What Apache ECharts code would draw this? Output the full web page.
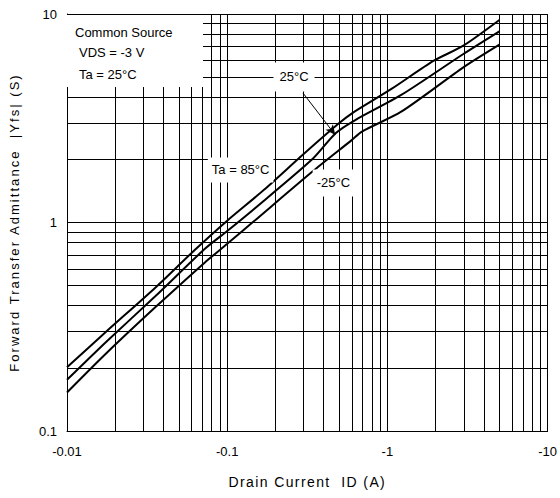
<!DOCTYPE html>
<html>
<head>
<meta charset="utf-8">
<script src="https://cdn.jsdelivr.net/npm/echarts@6/dist/echarts.min.js"></script>
<style>
  html, body { margin: 0; padding: 0; background: #fff; }
  #chart { width: 560px; height: 498px; }
</style>
</head>
<body>
<div id="chart"></div>
<script>
// |Yfs| versus drain current, VDS = -3 V, three ambient temperatures
const id85   = [0.01, 0.0176, 0.0357, 0.0627, 0.1, 0.169, 0.30, 0.498, 0.601, 1.06, 1.95, 2.98, 5.0];
const yfs85  = [0.202, 0.300, 0.488, 0.738, 1.02, 1.43, 2.13, 2.99, 3.34, 4.37, 5.97, 7.05, 9.36];

const id25   = [0.01, 0.0176, 0.0357, 0.0723, 0.1, 0.146, 0.342, 0.475, 0.63, 1.22, 2.98, 5.0];
const yfs25  = [0.176, 0.268, 0.444, 0.746, 0.91, 1.155, 2.02, 2.68, 3.10, 4.09, 6.43, 8.26];

const idM25  = [0.01, 0.0176, 0.0357, 0.0723, 0.1, 0.146, 0.342, 0.601, 0.693, 1.22, 2.98, 5.0];
const yfsM25 = [0.153, 0.236, 0.393, 0.642, 0.79, 1.01, 1.76, 2.49, 2.73, 3.40, 5.55, 7.13];

const xTickLabels = ['-0.01', '-0.1', '-1', '-10'];
const yTickLabels = ['0.1', '1', '10'];

const xDecades = [0.01, 0.1, 1];
const yDecades = [0.1, 1];

// annotation anchors in data units (current magnitude, |Yfs|)
const label25  = [0.2614, 4.99];
const label85  = [0.1213, 1.786];
const labelM25 = [0.4598, 1.547];
const arrowFrom = [0.297, 4.18];
const arrowTo   = [0.473, 2.63];

const xTitle = 'Drain Current  ID (A)';
const yTitle = 'Forward Transfer Admittance  |Yfs| (S)';
const noteLines = ['Common Source', 'VDS = -3 V', 'Ta = 25°C'];

const FONT = '"Liberation Sans", Arial, sans-serif';

function pairs(xs, ys) { return xs.map((x, i) => [x, ys[i]]); }

// log-decade grid: 1..9 within each decade plus the closing edge
const xGrid = [];
xDecades.forEach(d => { for (let k = 1; k <= 9; k++) xGrid.push(+(k * d).toPrecision(3)); });
xGrid.push(10);
const yGrid = [];
yDecades.forEach(d => { for (let k = 1; k <= 9; k++) yGrid.push(+(k * d).toPrecision(3)); });
yGrid.push(10);

const gridLines = [
  ...xGrid.map(v => ({ xAxis: v })),
  ...yGrid.map(v => ({ yAxis: v }))
];

const curveStyle = { color: '#000', width: 2 };
const noteText = (text, x, y) => ({
  type: 'text', x, y, z: 101,
  style: { text, fontFamily: FONT, fontSize: 13, fill: '#000', verticalAlign: 'middle' }
});

const chart = echarts.init(document.getElementById('chart'), null, { renderer: 'svg' });

chart.setOption({
  animation: false,
  backgroundColor: '#fff',
  grid: { left: 60, right: 11, top: 14, bottom: 67 },
  xAxis: {
    type: 'log', logBase: 10, min: 0.01, max: 10,
    name: xTitle, nameLocation: 'middle', nameGap: 44,
    nameTextStyle: { fontFamily: FONT, fontSize: 14, color: '#000' },
    axisLine: { show: true, lineStyle: { color: '#000', width: 1 } },
    axisTick: { show: false },
    splitLine: { show: false },
    minorTick: { show: false }, minorSplitLine: { show: false },
    axisLabel: {
      fontFamily: FONT, fontSize: 13, color: '#000', margin: 14,
      formatter: (v, i) => xTickLabels[i]
    }
  },
  yAxis: {
    type: 'log', logBase: 10, min: 0.1, max: 10,
    name: yTitle, nameLocation: 'middle', nameGap: 46, nameRotate: 90,
    nameTextStyle: { fontFamily: FONT, fontSize: 13, color: '#000' },
    axisLine: { show: true, lineStyle: { color: '#000', width: 1 } },
    axisTick: { show: false },
    splitLine: { show: false },
    axisLabel: {
      fontFamily: FONT, fontSize: 13, color: '#000', margin: 10,
      formatter: (v, i) => yTickLabels[i]
    }
  },
  series: [
    {
      name: 'grid', type: 'line', z: 1, silent: true,
      data: [[0.01, 0.1]], showSymbol: false, lineStyle: { width: 0 },
      markLine: {
        silent: true, symbol: ['none', 'none'], animation: false,
        label: { show: false },
        lineStyle: { color: '#000', width: 1, type: 'solid' },
        emphasis: { disabled: true },
        data: gridLines
      }
    },
    {
      name: 'Ta = 85°C', type: 'line', z: 3, smooth: 0.25,
      showSymbol: false, lineStyle: curveStyle,
      data: pairs(id85, yfs85)
    },
    {
      name: '25°C', type: 'line', z: 3, smooth: 0.25,
      showSymbol: false, lineStyle: curveStyle,
      data: pairs(id25, yfs25),
      markLine: {
        silent: true, symbol: ['none', 'arrow'], symbolSize: [7, 10],
        label: { show: false },
        lineStyle: { color: '#000', width: 1, type: 'solid' },
        data: [[{ coord: arrowFrom }, { coord: arrowTo }]]
      }
    },
    {
      name: '-25°C', type: 'line', z: 3, smooth: 0.25,
      showSymbol: false, lineStyle: curveStyle,
      data: pairs(idM25, yfsM25)
    },
    {
      name: 'labels', type: 'line', z: 5, silent: true,
      data: [], showSymbol: false,
      markPoint: {
        silent: true, symbol: 'rect', symbolSize: 1,
        itemStyle: { color: 'rgba(0,0,0,0)' },
        label: {
          show: true, position: 'inside', color: '#000',
          fontFamily: FONT, fontSize: 13, backgroundColor: '#fff'
        },
        data: [
          { coord: label25, value: '25°C', label: { formatter: '25°C', padding: [8, 6] } },
          { coord: label85, value: 'Ta = 85°C', label: { formatter: 'Ta = 85°C', padding: [6, 4] } },
          { coord: labelM25, value: '-25°C', label: { formatter: '-25°C', padding: [7, 4] } }
        ]
      }
    }
  ],
  graphic: [
    {
      type: 'group', left: 62, top: 15, z: 100,
      children: [
        { type: 'rect', z: 100, shape: { x: 0, y: 0, width: 141, height: 72 }, style: { fill: '#fff' } },
        noteText(noteLines[0], 13, 17),
        noteText(noteLines[1], 17, 37),
        noteText(noteLines[2], 17, 59)
      ]
    }
  ]
});

// widen the tracking of the two axis titles
const tracking = { [xTitle]: '1.4px', [yTitle]: '2.05px' };
document.querySelectorAll('#chart svg text').forEach(t => {
  const s = tracking[t.textContent];
  if (s) t.setAttribute('letter-spacing', s);
});
</script>
</body>
</html>
